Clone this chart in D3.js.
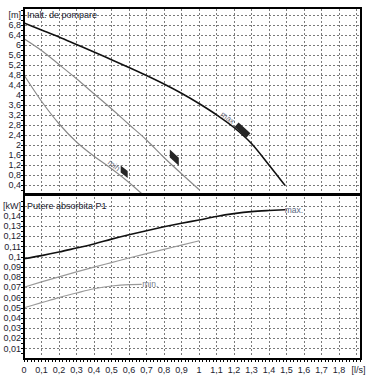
<!DOCTYPE html>
<html><head><meta charset="utf-8">
<script src="https://cdn.jsdelivr.net/npm/d3@7"></script>
<style>body{margin:0;background:#fff}svg{display:block}text{font-family:"Liberation Sans",Arial,sans-serif}</style>
</head><body><svg id="c" width="373" height="379"></svg>
<script>
// ---- tick labels ----
const flowTicks = [0,0.1,0.2,0.3,0.4,0.5,0.6,0.7,0.8,0.9,1,1.1,1.2,1.3,1.4,1.5,1.6,1.7,1.8];
const flowUnit = {at:1.9, label:"[l/s]"};
const headTicks = [0.4,0.8,1.2,1.6,2,2.4,2.8,3.2,3.6,4,4.4,4.8,5.2,5.6,6,6.4,6.8];
const headUnit = {at:7.2, label:"[m]"};
const powerTicks = [0.01,0.02,0.03,0.04,0.05,0.06,0.07,0.08,0.09,0.1,0.11,0.12,0.13,0.14];
const powerUnit = {at:0.15, label:"[kW]"};
const headTitle = "Inalt. de pompare";
const powerTitle = "Putere absorbita P1";

// ---- head curves (Q l/s, H m) ----
const headMaxQ = [0,0.1,0.2,0.3,0.4,0.5,0.6,0.7,0.8,0.9,1.0,1.1,1.2,1.3,1.4,1.49];
const headMaxH = [6.88,6.6,6.32,6.02,5.72,5.41,5.1,4.78,4.44,4.07,3.66,3.21,2.7,2.06,1.2,0.4];
const headMidQ = [0,0.1,0.2,0.3,0.4,0.5,0.6,0.7,0.8,0.9,1.0];
const headMidH = [6.25,5.78,5.22,4.65,4.05,3.45,2.82,2.2,1.5,0.85,0.22];
const headMinQ = [0,0.1,0.2,0.3,0.4,0.5,0.6,0.67];
const headMinH = [4.8,3.75,2.85,2.12,1.55,1.05,0.5,0.07];

// ---- power curves (Q l/s, P1 kW) ----
const powMaxQ = [0,0.1,0.2,0.3,0.4,0.5,0.6,0.7,0.8,0.9,1.0,1.1,1.2,1.3,1.4,1.49];
const powMaxP = [0.098,0.101,0.1045,0.1085,0.1125,0.1172,0.1215,0.1255,0.1293,0.1328,0.136,0.1395,0.1422,0.1442,0.1453,0.146];
const powMidQ = [0,0.1,0.2,0.3,0.4,0.5,0.6,0.7,0.8,0.9,1.0];
const powMidP = [0.070,0.0752,0.0802,0.085,0.0897,0.0942,0.0987,0.103,0.1072,0.1113,0.1155];
const powMinQ = [0,0.1,0.2,0.3,0.4,0.5,0.6,0.67];
const powMinP = [0.0498,0.0548,0.0598,0.0643,0.0685,0.0712,0.0725,0.0727];

const fmt = v => String(v).replace(".", ",");

const svg = d3.select("#c");
const x = d3.scaleLinear([0, 1.926], [24, 361]);
const yH = d3.scaleLinear([0, 7.48], [195, 8]);
const yP = d3.scaleLinear([0, 0.162], [358.5, 193.5]);

const gridCol = "#7a7a7a";
const grid = svg.append("g").attr("stroke", gridCol).attr("stroke-width", 1).attr("stroke-dasharray", "2,2").attr("shape-rendering","crispEdges");
[...flowTicks.slice(1), flowUnit.at].forEach(q => {
  grid.append("line").attr("x1", Math.round(x(q))+0.5).attr("x2", Math.round(x(q))+0.5).attr("y1", 9).attr("y2", 357);
});
[...headTicks, headUnit.at].forEach(h => {
  grid.append("line").attr("x1", 25).attr("x2", 360).attr("y1", Math.round(yH(h))+0.5).attr("y2", Math.round(yH(h))+0.5);
});
[...powerTicks, powerUnit.at].forEach(p => {
  grid.append("line").attr("x1", 25).attr("x2", 360).attr("y1", Math.round(yP(p))+0.5).attr("y2", Math.round(yP(p))+0.5);
});

svg.append("clipPath").attr("id","tc").append("rect").attr("x",24).attr("y",8).attr("width",337).attr("height",185);
function drawCurve(Q, V, y, col, w, clip) {
  const pts = Q.map((q,i)=>[x(q), y(V[i])]);
  const p = svg.append("path").attr("d", d3.line().curve(d3.curveMonotoneX)(pts))
    .attr("fill","none").attr("stroke",col).attr("stroke-width",w).attr("stroke-linecap","round");
  if (clip) p.attr("clip-path","url(#tc)");
}
drawCurve(headMaxQ, headMaxH, yH, "#111", 1.6, true);
drawCurve(headMidQ, headMidH, yH, "#8a8a8a", 1.2, true);
drawCurve(headMinQ, headMinH, yH, "#8a8a8a", 1.2, true);
drawCurve(powMaxQ, powMaxP, yP, "#111", 1.6, false);
drawCurve(powMidQ, powMidP, yP, "#9a9a9a", 1.2, false);
drawCurve(powMinQ, powMinP, yP, "#9a9a9a", 1.2, false);

function along(Q, V, q) {
  const i = Math.max(0, Math.min(Q.length-2, d3.bisectRight(Q, q)-1));
  const t = (q-Q[i])/(Q[i+1]-Q[i]);
  const px = x(q), py = yH(V[i] + t*(V[i+1]-V[i]));
  const ang = Math.atan2(yH(V[i+1])-yH(V[i]), x(Q[i+1])-x(Q[i]));
  return {px, py, ang};
}
function marker(Q, V, q, off, hx, vh) {
  const a = along(Q, V, q);
  const nx = Math.sin(a.ang), ny = -Math.cos(a.ang);
  const cx = a.px + nx*off, cy = a.py + ny*off;
  const s = Math.tan(a.ang);
  const p = [[-hx/2, -hx/2*s - vh/2],[hx/2, hx/2*s - vh/2],[hx/2, hx/2*s + vh/2],[-hx/2, -hx/2*s + vh/2]]
    .map(d => [cx+d[0], cy+d[1]]);
  svg.append("path").attr("d", d3.line()(p)+"Z").attr("fill","#262626");
}
function barMarker(Q, V, q, off, len, wid) {
  const a = along(Q, V, q);
  const nx = Math.sin(a.ang), ny = -Math.cos(a.ang);
  svg.append("rect").attr("x",-len/2).attr("y",-wid/2).attr("width",len).attr("height",wid)
    .attr("fill","#262626")
    .attr("transform",`translate(${a.px+nx*off},${a.py+ny*off}) rotate(${a.ang*180/Math.PI})`);
}
function curveLabel(Q, V, q, off, txt) {
  const a = along(Q, V, q);
  const nx = Math.sin(a.ang), ny = -Math.cos(a.ang);
  svg.append("text").attr("text-anchor","middle").attr("font-size",8).attr("fill","#6d6f80")
    .attr("transform",`translate(${a.px+nx*off},${a.py+ny*off}) rotate(${a.ang*180/Math.PI})`)
    .text(txt);
}
barMarker(headMaxQ, headMaxH, 1.234, 3.8, 16, 6);
marker(headMidQ, headMidH, 0.832, 7, 9, 8);
marker(headMinQ, headMinH, 0.553, 5.5, 7, 7);
curveLabel(headMaxQ, headMaxH, 1.15, 1.5, "max");
curveLabel(headMinQ, headMinH, 0.50, 1.5, "min");

svg.append("text").attr("x", x(powMaxQ[powMaxQ.length-1])).attr("y", yP(powMaxP[powMaxP.length-1])+3)
  .attr("font-size",8.5).attr("fill","#5a6580").text("max.");
svg.append("text").attr("x", x(powMinQ[powMinQ.length-1])+1).attr("y", yP(powMinP[powMinP.length-1])+3)
  .attr("font-size",8.5).attr("fill","#7a8090").text("min.");

const fr = svg.append("g").attr("stroke","#000").attr("shape-rendering","crispEdges");
fr.append("line").attr("x1",23).attr("x2",362).attr("y1",8).attr("y2",8).attr("stroke-width",2);
fr.append("line").attr("x1",361).attr("x2",361).attr("y1",7).attr("y2",359).attr("stroke-width",2);
fr.append("line").attr("x1",23).attr("x2",362).attr("y1",194).attr("y2",194).attr("stroke-width",3);
fr.append("line").attr("x1",23).attr("x2",362).attr("y1",358.5).attr("y2",358.5).attr("stroke-width",2);
fr.append("line").attr("x1",24).attr("x2",24).attr("y1",7).attr("y2",359.5).attr("stroke-width",1.6);

const tk = svg.append("g").attr("stroke","#000").attr("stroke-width",1).attr("shape-rendering","crispEdges");
d3.range(0, 1.93, 0.02).forEach(q => {
  const xx = Math.round(x(q))+0.5;
  tk.append("line").attr("x1",xx).attr("x2",xx).attr("y1",359).attr("y2",362);
});
d3.range(0.2, 7.45, 0.2).forEach(h => {
  const yy = Math.round(yH(h))+0.5;
  tk.append("line").attr("x1",21).attr("x2",24).attr("y1",yy).attr("y2",yy);
});
d3.range(0.005, 0.158, 0.005).forEach(p => {
  const yy = Math.round(yP(p))+0.5;
  tk.append("line").attr("x1",21).attr("x2",24).attr("y1",yy).attr("y2",yy);
});

const lab = svg.append("g").attr("font-size",9).attr("fill","#1c1c30");
headTicks.forEach(h => lab.append("text").attr("x",21).attr("y",yH(h)+3.2).attr("text-anchor","end").text(fmt(h)));
lab.append("text").attr("x",21).attr("y",yH(headUnit.at)+3.2).attr("text-anchor","end").text(headUnit.label);
powerTicks.forEach(p => lab.append("text").attr("x",21).attr("y",yP(p)+3.2).attr("text-anchor","end").text(fmt(p)));
lab.append("text").attr("x",21).attr("y",yP(powerUnit.at)+3.2).attr("text-anchor","end").text(powerUnit.label);
flowTicks.forEach(q => lab.append("text").attr("x",x(q)).attr("y",373).attr("text-anchor","middle").text(fmt(q)));
lab.append("text").attr("x",x(flowUnit.at)+2).attr("y",373).attr("text-anchor","middle").text(flowUnit.label);

lab.append("text").attr("x",27).attr("y",yH(headUnit.at)+3.2).text(headTitle);
lab.append("text").attr("x",27).attr("y",yP(powerUnit.at)+3.2).text(powerTitle);
</script></body></html>
